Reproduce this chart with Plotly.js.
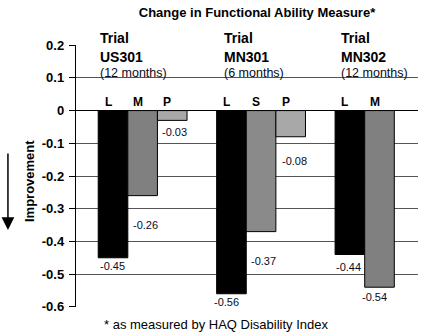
<!DOCTYPE html>
<html>
<head>
<meta charset="utf-8">
<script src="https://cdn.plot.ly/plotly-3.0.1.min.js"></script>
<style>html,body{margin:0;padding:0;background:#fff;}#chart{width:424px;height:332px;}</style>
</head>
<body>
<div id="chart"></div>
<script>
// ---- data ----
const groups = ['US301', 'MN301', 'MN302'];
const durations = ['(12 months)', '(6 months)', '(12 months)'];
const barLetters = [['L', 'M', 'P'], ['L', 'S', 'P'], ['L', 'M']];
const values = [[-0.45, -0.26, -0.03], [-0.56, -0.37, -0.08], [-0.44, -0.54]];
const yTickVals = [0.2, 0.1, 0, -0.1, -0.2, -0.3, -0.4, -0.5, -0.6];
const yTickText = ['0.2', '0.1', '0', '-0.1', '-0.2', '-0.3', '-0.4', '-0.5', '-0.6'];

// ---- style ----
const FONT = 'Liberation Sans, Arial, sans-serif';
const letterColor = { L: '#000000', M: '#808080', S: '#8a8a8a', P: '#a8a8a8' };
const groupSlot = 4;
// label pixel offsets [xshift, yshift] per bar (style only)
const labelOffsets = [[[0, -8], [3, -29], [3, -12]], [[-5, -8], [3, -29], [4, -24]], [[-1, -12], [-5, -10]]];
const headerShift = [0, 5, 4];

const xs = [], ys = [], cols = [];
const annotations = [];
groups.forEach((g, gi) => {
  values[gi].forEach((v, bi) => {
    const pos = gi * groupSlot + bi;
    xs.push(pos); ys.push(v); cols.push(letterColor[barLetters[gi][bi]]);
    annotations.push({
      xref: 'x', yref: 'y', x: pos - 0.5, y: v, xanchor: 'left', yanchor: 'middle',
      xshift: labelOffsets[gi][bi][0], yshift: labelOffsets[gi][bi][1],
      text: v.toFixed(2), showarrow: false,
      font: { family: FONT, size: 11, color: '#0a0a22' }
    });
    annotations.push({
      xref: 'x', yref: 'paper', x: pos, y: 0.782, xanchor: 'center', yanchor: 'middle',
      xshift: -5, text: '<b>' + barLetters[gi][bi] + '</b>', showarrow: false,
      font: { family: FONT, size: 12, color: '#000' }
    });
  });
  const left = gi * groupSlot - 0.5;
  annotations.push({ xref: 'x', yref: 'paper', x: left, y: 1.027, xanchor: 'left', yanchor: 'middle',
    xshift: headerShift[gi], text: '<b>Trial</b>', showarrow: false, font: { family: FONT, size: 14, color: '#000' } });
  annotations.push({ xref: 'x', yref: 'paper', x: left, y: 0.954, xanchor: 'left', yanchor: 'middle',
    xshift: headerShift[gi], text: '<b>' + g + '</b>', showarrow: false, font: { family: FONT, size: 14, color: '#000' } });
  annotations.push({ xref: 'x', yref: 'paper', x: left, y: 0.893, xanchor: 'left', yanchor: 'middle',
    xshift: headerShift[gi], text: durations[gi], showarrow: false, font: { family: FONT, size: 12.5, color: '#0a0a22' } });
});

annotations.push({ xref: 'paper', yref: 'paper', x: -0.138, y: 0.48, xanchor: 'center', yanchor: 'middle',
  text: '<b>Improvement</b>', textangle: -90, showarrow: false, font: { family: FONT, size: 13, color: '#000' } });
annotations.push({ xref: 'paper', yref: 'paper', x: -0.199, y: 0.294, axref: 'pixel', ayref: 'pixel', ax: 0, ay: -78,
  text: '', showarrow: true, arrowhead: 2, arrowsize: 1.7, arrowwidth: 1.5, arrowcolor: '#000', standoff: 0 });
annotations.push({ xref: 'paper', yref: 'paper', x: (216 - 76) / 342, y: -0.065, xanchor: 'center', yanchor: 'middle',
  text: '* as measured by HAQ Disability Index', showarrow: false, font: { family: FONT, size: 13, color: '#000' } });

const trace = {
  type: 'bar', x: xs, y: ys, width: 1,
  marker: { color: cols, line: { color: '#000', width: 1 } },
  hoverinfo: 'none'
};

const layout = {
  width: 424, height: 332,
  margin: { l: 76, r: 6, t: 45, b: 25 },
  paper_bgcolor: '#fff', plot_bgcolor: '#fff',
  showlegend: false,
  title: { text: '<b>Change in Functional Ability Measure*</b>', x: 257 / 424, xanchor: 'center', xref: 'container',
    y: 1 - 12 / 332, yanchor: 'middle', yref: 'container', font: { family: FONT, size: 13, color: '#000' } },
  xaxis: { range: [-1.25, 10.3], showgrid: false, zeroline: false, showticklabels: false, ticks: '', showline: false, fixedrange: true },
  yaxis: { range: [-0.6005, 0.2005], tickvals: yTickVals, ticktext: yTickText.map(t => '<b>' + t + '</b>'),
    tickfont: { family: FONT, size: 13, color: '#000' }, ticks: 'outside', ticklen: 6, tickcolor: '#000', tickwidth: 1,
    showline: true, linecolor: '#000', linewidth: 1.2, showgrid: true, gridcolor: '#555', gridwidth: 1,
    zeroline: true, zerolinecolor: '#000', zerolinewidth: 1.2, ticklabelstandoff: 2 },
  annotations: annotations,
  bargap: 0
};

Plotly.newPlot('chart', [trace], layout, { staticPlot: true, displayModeBar: false });
</script>
</body>
</html>
